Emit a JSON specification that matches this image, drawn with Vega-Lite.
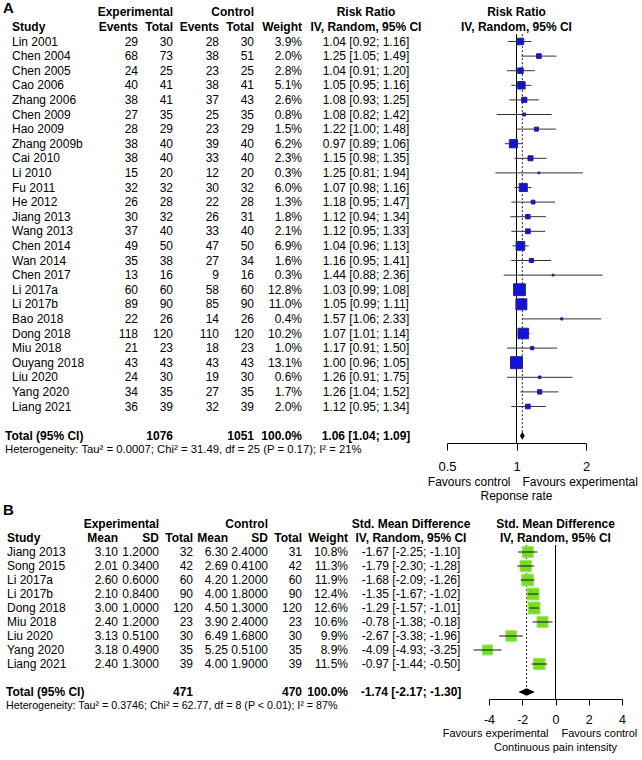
{
  "$schema": "https://vega.github.io/schema/vega-lite/v6.json",
  "background": "white",
  "padding": {"left": 0, "top": 1, "right": 0, "bottom": 0},
  "autosize": {"type": "pad"},
  "config": {
    "view": {"stroke": null},
    "font": "Liberation Sans",
    "text": {"font": "Liberation Sans", "fontSize": 12, "color": "#000", "baseline": "middle"}
  },
  "datasets": {
    "A": [
      {"r":"Lin 2001","ee":29,"et":30,"ce":28,"ct":30,"w":0.039,"est":1.04,"lo":0.92,"hi":1.16,"ci":"1.04 [0.92; 1.16]"},
      {"r":"Chen 2004","ee":68,"et":73,"ce":38,"ct":51,"w":0.020,"est":1.25,"lo":1.05,"hi":1.49,"ci":"1.25 [1.05; 1.49]"},
      {"r":"Chen 2005","ee":24,"et":25,"ce":23,"ct":25,"w":0.028,"est":1.04,"lo":0.91,"hi":1.20,"ci":"1.04 [0.91; 1.20]"},
      {"r":"Cao 2006","ee":40,"et":41,"ce":38,"ct":41,"w":0.051,"est":1.05,"lo":0.95,"hi":1.16,"ci":"1.05 [0.95; 1.16]"},
      {"r":"Zhang 2006","ee":38,"et":41,"ce":37,"ct":43,"w":0.026,"est":1.08,"lo":0.93,"hi":1.25,"ci":"1.08 [0.93; 1.25]"},
      {"r":"Chen 2009","ee":27,"et":35,"ce":25,"ct":35,"w":0.008,"est":1.08,"lo":0.82,"hi":1.42,"ci":"1.08 [0.82; 1.42]"},
      {"r":"Hao 2009","ee":28,"et":29,"ce":23,"ct":29,"w":0.015,"est":1.22,"lo":1.00,"hi":1.48,"ci":"1.22 [1.00; 1.48]"},
      {"r":"Zhang 2009b","ee":38,"et":40,"ce":39,"ct":40,"w":0.062,"est":0.97,"lo":0.89,"hi":1.06,"ci":"0.97 [0.89; 1.06]"},
      {"r":"Cai 2010","ee":38,"et":40,"ce":33,"ct":40,"w":0.023,"est":1.15,"lo":0.98,"hi":1.35,"ci":"1.15 [0.98; 1.35]"},
      {"r":"Li 2010","ee":15,"et":20,"ce":12,"ct":20,"w":0.003,"est":1.25,"lo":0.81,"hi":1.94,"ci":"1.25 [0.81; 1.94]"},
      {"r":"Fu 2011","ee":32,"et":32,"ce":30,"ct":32,"w":0.060,"est":1.07,"lo":0.98,"hi":1.16,"ci":"1.07 [0.98; 1.16]"},
      {"r":"He 2012","ee":26,"et":28,"ce":22,"ct":28,"w":0.013,"est":1.18,"lo":0.95,"hi":1.47,"ci":"1.18 [0.95; 1.47]"},
      {"r":"Jiang 2013","ee":30,"et":32,"ce":26,"ct":31,"w":0.018,"est":1.12,"lo":0.94,"hi":1.34,"ci":"1.12 [0.94; 1.34]"},
      {"r":"Wang 2013","ee":37,"et":40,"ce":33,"ct":40,"w":0.021,"est":1.12,"lo":0.95,"hi":1.33,"ci":"1.12 [0.95; 1.33]"},
      {"r":"Chen 2014","ee":49,"et":50,"ce":47,"ct":50,"w":0.069,"est":1.04,"lo":0.96,"hi":1.13,"ci":"1.04 [0.96; 1.13]"},
      {"r":"Wan 2014","ee":35,"et":38,"ce":27,"ct":34,"w":0.016,"est":1.16,"lo":0.95,"hi":1.41,"ci":"1.16 [0.95; 1.41]"},
      {"r":"Chen 2017","ee":13,"et":16,"ce":9,"ct":16,"w":0.003,"est":1.44,"lo":0.88,"hi":2.36,"ci":"1.44 [0.88; 2.36]"},
      {"r":"Li 2017a","ee":60,"et":60,"ce":58,"ct":60,"w":0.128,"est":1.03,"lo":0.99,"hi":1.08,"ci":"1.03 [0.99; 1.08]"},
      {"r":"Li 2017b","ee":89,"et":90,"ce":85,"ct":90,"w":0.110,"est":1.05,"lo":0.99,"hi":1.11,"ci":"1.05 [0.99; 1.11]"},
      {"r":"Bao 2018","ee":22,"et":26,"ce":14,"ct":26,"w":0.004,"est":1.57,"lo":1.06,"hi":2.33,"ci":"1.57 [1.06; 2.33]"},
      {"r":"Dong 2018","ee":118,"et":120,"ce":110,"ct":120,"w":0.102,"est":1.07,"lo":1.01,"hi":1.14,"ci":"1.07 [1.01; 1.14]"},
      {"r":"Miu 2018","ee":21,"et":23,"ce":18,"ct":23,"w":0.010,"est":1.17,"lo":0.91,"hi":1.50,"ci":"1.17 [0.91; 1.50]"},
      {"r":"Ouyang 2018","ee":43,"et":43,"ce":43,"ct":43,"w":0.131,"est":1.00,"lo":0.96,"hi":1.05,"ci":"1.00 [0.96; 1.05]"},
      {"r":"Liu 2020","ee":24,"et":30,"ce":19,"ct":30,"w":0.006,"est":1.26,"lo":0.91,"hi":1.75,"ci":"1.26 [0.91; 1.75]"},
      {"r":"Yang 2020","ee":34,"et":35,"ce":27,"ct":35,"w":0.017,"est":1.26,"lo":1.04,"hi":1.52,"ci":"1.26 [1.04; 1.52]"},
      {"r":"Liang 2021","ee":36,"et":39,"ce":32,"ct":39,"w":0.020,"est":1.12,"lo":0.95,"hi":1.34,"ci":"1.12 [0.95; 1.34]"}
    ],
    "Ab": [
      {"r":"h1","c":"lab","t":"A"},
      {"r":"h1","c":"et","t":"Experimental"},
      {"r":"h1","c":"ct","t":"Control"},
      {"r":"h1","c":"ci","t":"Risk Ratio"},
      {"r":"h1","c":"fp","t":"Risk Ratio"},
      {"r":"h2","c":"s","t":"Study"},
      {"r":"h2","c":"ee","t":"Events"},
      {"r":"h2","c":"et","t":"Total"},
      {"r":"h2","c":"ce","t":"Events"},
      {"r":"h2","c":"ct","t":"Total"},
      {"r":"h2","c":"w","t":"Weight"},
      {"r":"h2","c":"ci","t":"IV, Random, 95% CI"},
      {"r":"h2","c":"fp","t":"IV, Random, 95% CI"},
      {"r":"Total","c":"tot","t":"Total (95% CI)"},
      {"r":"Total","c":"et","t":"1076"},
      {"r":"Total","c":"ct","t":"1051"},
      {"r":"Total","c":"w","t":"100.0%"},
      {"r":"Total","c":"ci","t":"1.06 [1.04; 1.09]"}
    ],
    "An": [
      {"r":"Het","c":"het","t":"Heterogeneity: Tau² = 0.0007; Chi² = 31.49, df = 25 (P = 0.17); I² = 21%"},
      {"r":"fav","c":"L","t":"Favours control"},
      {"r":"fav","c":"R","t":"Favours experimental"},
      {"r":"resp","c":"C","t":"Reponse rate"}
    ],
    "At": [{"r":"Total","lo":1.04,"est":1.06,"hi":1.09}],
    "B": [
      {"r":"Jiang 2013","me":3.10,"sde":1.2,"te":32,"mc":6.30,"sdc":2.4,"tc":31,"w":0.108,"est":-1.67,"lo":-2.25,"hi":-1.10,"ci":"-1.67 [-2.25; -1.10]"},
      {"r":"Song 2015","me":2.01,"sde":0.34,"te":42,"mc":2.69,"sdc":0.41,"tc":42,"w":0.113,"est":-1.79,"lo":-2.30,"hi":-1.28,"ci":"-1.79 [-2.30; -1.28]"},
      {"r":"Li 2017a","me":2.60,"sde":0.6,"te":60,"mc":4.20,"sdc":1.2,"tc":60,"w":0.119,"est":-1.68,"lo":-2.09,"hi":-1.26,"ci":"-1.68 [-2.09; -1.26]"},
      {"r":"Li 2017b","me":2.10,"sde":0.84,"te":90,"mc":4.00,"sdc":1.8,"tc":90,"w":0.124,"est":-1.35,"lo":-1.67,"hi":-1.02,"ci":"-1.35 [-1.67; -1.02]"},
      {"r":"Dong 2018","me":3.00,"sde":1.0,"te":120,"mc":4.50,"sdc":1.3,"tc":120,"w":0.126,"est":-1.29,"lo":-1.57,"hi":-1.01,"ci":"-1.29 [-1.57; -1.01]"},
      {"r":"Miu 2018","me":2.40,"sde":1.2,"te":23,"mc":3.90,"sdc":2.4,"tc":23,"w":0.106,"est":-0.78,"lo":-1.38,"hi":-0.18,"ci":"-0.78 [-1.38; -0.18]"},
      {"r":"Liu 2020","me":3.13,"sde":0.51,"te":30,"mc":6.49,"sdc":1.68,"tc":30,"w":0.099,"est":-2.67,"lo":-3.38,"hi":-1.96,"ci":"-2.67 [-3.38; -1.96]"},
      {"r":"Yang 2020","me":3.18,"sde":0.49,"te":35,"mc":5.25,"sdc":0.51,"tc":35,"w":0.089,"est":-4.09,"lo":-4.93,"hi":-3.25,"ci":"-4.09 [-4.93; -3.25]"},
      {"r":"Liang 2021","me":2.40,"sde":1.3,"te":39,"mc":4.00,"sdc":1.9,"tc":39,"w":0.115,"est":-0.97,"lo":-1.44,"hi":-0.50,"ci":"-0.97 [-1.44; -0.50]"}
    ],
    "Bb": [
      {"r":"lab","c":"lab","t":"B"},
      {"r":"h1","c":"sde","t":"Experimental"},
      {"r":"h1","c":"sdc","t":"Control"},
      {"r":"h1","c":"ci","t":"Std. Mean Difference"},
      {"r":"h1","c":"fp","t":"Std. Mean Difference"},
      {"r":"h2","c":"s","t":"Study"},
      {"r":"h2","c":"me","t":"Mean"},
      {"r":"h2","c":"sde","t":"SD"},
      {"r":"h2","c":"te","t":"Total"},
      {"r":"h2","c":"mc","t":"Mean"},
      {"r":"h2","c":"sdc","t":"SD"},
      {"r":"h2","c":"tc","t":"Total"},
      {"r":"h2","c":"w","t":"Weight"},
      {"r":"h2","c":"ci","t":"IV, Random, 95% CI"},
      {"r":"h2","c":"fp","t":"IV, Random, 95% CI"},
      {"r":"Total","c":"tot","t":"Total (95% CI)"},
      {"r":"Total","c":"te","t":"471"},
      {"r":"Total","c":"tc","t":"470"},
      {"r":"Total","c":"w","t":"100.0%"},
      {"r":"Total","c":"ci","t":"-1.74 [-2.17; -1.30]"}
    ],
    "Bn": [
      {"r":"Het","c":"het","t":"Heterogeneity: Tau² = 0.3746; Chi² = 62.77, df = 8 (P < 0.01); I² = 87%"},
      {"r":"fav","c":"L","t":"Favours experimental"},
      {"r":"fav","c":"R","t":"Favours control"},
      {"r":"resp","c":"C","t":"Continuous pain intensity"}
    ],
    "Bt": [{"r":"Total","lo":-2.17,"est":-1.74,"hi":-1.30}]
  },
  "spacing": 0,
  "bounds": "full",
  "vconcat": [
    {
      "spacing": 0,
      "bounds": "flush",
      "hconcat": [
        {
          "width": 98, "height": 496.4,
          "encoding": {"y": {"field": "r", "type": "nominal", "axis": null, "scale": {"type": "band", "paddingInner": 0, "paddingOuter": 0, "domain": ["h1","h2","Lin 2001","Chen 2004","Chen 2005","Cao 2006","Zhang 2006","Chen 2009","Hao 2009","Zhang 2009b","Cai 2010","Li 2010","Fu 2011","He 2012","Jiang 2013","Wang 2013","Chen 2014","Wan 2014","Chen 2017","Li 2017a","Li 2017b","Bao 2018","Dong 2018","Miu 2018","Ouyang 2018","Liu 2020","Yang 2020","Liang 2021","gap","Total","Het","ticks","fav","resp"]}}},
          "layer": [
            {"data": {"name": "A"}, "mark": {"type": "text", "align": "left", "x": 0, "dx": 12}, "encoding": {"text": {"field": "r", "type": "nominal"}}},
            {"data": {"name": "Ab"}, "transform": [{"filter": "datum.c == 's'"}], "mark": {"type": "text", "align": "left", "x": 0, "dx": 12, "fontWeight": "bold"}, "encoding": {"text": {"field": "t", "type": "nominal"}}},
            {"data": {"name": "Ab"}, "transform": [{"filter": "datum.c == 'tot'"}], "mark": {"type": "text", "align": "left", "x": 0, "dx": 5, "fontWeight": "bold"}, "encoding": {"text": {"field": "t", "type": "nominal"}}},
            {"data": {"name": "Ab"}, "transform": [{"filter": "datum.c == 'lab'"}], "mark": {"type": "text", "align": "left", "x": 0, "dx": 3, "dy": -4, "fontSize": 15, "fontWeight": "bold"}, "encoding": {"text": {"field": "t", "type": "nominal"}}},
            {"data": {"name": "An"}, "transform": [{"filter": "datum.c == 'het'"}], "mark": {"type": "text", "align": "left", "x": 0, "dx": 5, "fontSize": 11.3}, "encoding": {"text": {"field": "t", "type": "nominal"}}}
          ]
        },
        {
          "width": 40, "height": 496.4,
          "encoding": {"y": {"field": "r", "type": "nominal", "axis": null, "scale": {"type": "band", "paddingInner": 0, "paddingOuter": 0, "domain": ["h1","h2","Lin 2001","Chen 2004","Chen 2005","Cao 2006","Zhang 2006","Chen 2009","Hao 2009","Zhang 2009b","Cai 2010","Li 2010","Fu 2011","He 2012","Jiang 2013","Wang 2013","Chen 2014","Wan 2014","Chen 2017","Li 2017a","Li 2017b","Bao 2018","Dong 2018","Miu 2018","Ouyang 2018","Liu 2020","Yang 2020","Liang 2021","gap","Total","Het","ticks","fav","resp"]}}},
          "layer": [
            {"data": {"name": "A"}, "mark": {"type": "text", "align": "right", "x": "width"}, "encoding": {"text": {"field": "ee", "type": "nominal"}}},
            {"data": {"name": "Ab"}, "transform": [{"filter": "datum.c == 'ee'"}], "mark": {"type": "text", "align": "right", "x": "width", "fontWeight": "bold"}, "encoding": {"text": {"field": "t", "type": "nominal"}}}
          ]
        },
        {
          "width": 35, "height": 496.4,
          "encoding": {"y": {"field": "r", "type": "nominal", "axis": null, "scale": {"type": "band", "paddingInner": 0, "paddingOuter": 0, "domain": ["h1","h2","Lin 2001","Chen 2004","Chen 2005","Cao 2006","Zhang 2006","Chen 2009","Hao 2009","Zhang 2009b","Cai 2010","Li 2010","Fu 2011","He 2012","Jiang 2013","Wang 2013","Chen 2014","Wan 2014","Chen 2017","Li 2017a","Li 2017b","Bao 2018","Dong 2018","Miu 2018","Ouyang 2018","Liu 2020","Yang 2020","Liang 2021","gap","Total","Het","ticks","fav","resp"]}}},
          "layer": [
            {"data": {"name": "A"}, "mark": {"type": "text", "align": "right", "x": "width"}, "encoding": {"text": {"field": "et", "type": "nominal"}}},
            {"data": {"name": "Ab"}, "transform": [{"filter": "datum.c == 'et'"}], "mark": {"type": "text", "align": "right", "x": "width", "fontWeight": "bold"}, "encoding": {"text": {"field": "t", "type": "nominal"}}}
          ]
        },
        {
          "width": 46, "height": 496.4,
          "encoding": {"y": {"field": "r", "type": "nominal", "axis": null, "scale": {"type": "band", "paddingInner": 0, "paddingOuter": 0, "domain": ["h1","h2","Lin 2001","Chen 2004","Chen 2005","Cao 2006","Zhang 2006","Chen 2009","Hao 2009","Zhang 2009b","Cai 2010","Li 2010","Fu 2011","He 2012","Jiang 2013","Wang 2013","Chen 2014","Wan 2014","Chen 2017","Li 2017a","Li 2017b","Bao 2018","Dong 2018","Miu 2018","Ouyang 2018","Liu 2020","Yang 2020","Liang 2021","gap","Total","Het","ticks","fav","resp"]}}},
          "layer": [
            {"data": {"name": "A"}, "mark": {"type": "text", "align": "right", "x": "width"}, "encoding": {"text": {"field": "ce", "type": "nominal"}}},
            {"data": {"name": "Ab"}, "transform": [{"filter": "datum.c == 'ce'"}], "mark": {"type": "text", "align": "right", "x": "width", "fontWeight": "bold"}, "encoding": {"text": {"field": "t", "type": "nominal"}}}
          ]
        },
        {
          "width": 35, "height": 496.4,
          "encoding": {"y": {"field": "r", "type": "nominal", "axis": null, "scale": {"type": "band", "paddingInner": 0, "paddingOuter": 0, "domain": ["h1","h2","Lin 2001","Chen 2004","Chen 2005","Cao 2006","Zhang 2006","Chen 2009","Hao 2009","Zhang 2009b","Cai 2010","Li 2010","Fu 2011","He 2012","Jiang 2013","Wang 2013","Chen 2014","Wan 2014","Chen 2017","Li 2017a","Li 2017b","Bao 2018","Dong 2018","Miu 2018","Ouyang 2018","Liu 2020","Yang 2020","Liang 2021","gap","Total","Het","ticks","fav","resp"]}}},
          "layer": [
            {"data": {"name": "A"}, "mark": {"type": "text", "align": "right", "x": "width"}, "encoding": {"text": {"field": "ct", "type": "nominal"}}},
            {"data": {"name": "Ab"}, "transform": [{"filter": "datum.c == 'ct'"}], "mark": {"type": "text", "align": "right", "x": "width", "fontWeight": "bold"}, "encoding": {"text": {"field": "t", "type": "nominal"}}}
          ]
        },
        {
          "width": 48, "height": 496.4,
          "encoding": {"y": {"field": "r", "type": "nominal", "axis": null, "scale": {"type": "band", "paddingInner": 0, "paddingOuter": 0, "domain": ["h1","h2","Lin 2001","Chen 2004","Chen 2005","Cao 2006","Zhang 2006","Chen 2009","Hao 2009","Zhang 2009b","Cai 2010","Li 2010","Fu 2011","He 2012","Jiang 2013","Wang 2013","Chen 2014","Wan 2014","Chen 2017","Li 2017a","Li 2017b","Bao 2018","Dong 2018","Miu 2018","Ouyang 2018","Liu 2020","Yang 2020","Liang 2021","gap","Total","Het","ticks","fav","resp"]}}},
          "layer": [
            {"data": {"name": "A"}, "mark": {"type": "text", "align": "right", "x": "width"}, "encoding": {"text": {"field": "w", "type": "quantitative", "format": ".1%"}}},
            {"data": {"name": "Ab"}, "transform": [{"filter": "datum.c == 'w'"}], "mark": {"type": "text", "align": "right", "x": "width", "fontWeight": "bold"}, "encoding": {"text": {"field": "t", "type": "nominal"}}}
          ]
        },
        {
          "width": 145, "height": 496.4,
          "encoding": {"y": {"field": "r", "type": "nominal", "axis": null, "scale": {"type": "band", "paddingInner": 0, "paddingOuter": 0, "domain": ["h1","h2","Lin 2001","Chen 2004","Chen 2005","Cao 2006","Zhang 2006","Chen 2009","Hao 2009","Zhang 2009b","Cai 2010","Li 2010","Fu 2011","He 2012","Jiang 2013","Wang 2013","Chen 2014","Wan 2014","Chen 2017","Li 2017a","Li 2017b","Bao 2018","Dong 2018","Miu 2018","Ouyang 2018","Liu 2020","Yang 2020","Liang 2021","gap","Total","Het","ticks","fav","resp"]}}},
          "layer": [
            {"data": {"name": "A"}, "mark": {"type": "text", "align": "center", "x": "width", "dx": -81}, "encoding": {"text": {"field": "ci", "type": "nominal"}}},
            {"data": {"name": "Ab"}, "transform": [{"filter": "datum.c == 'ci'"}], "mark": {"type": "text", "align": "center", "x": "width", "dx": -81, "fontWeight": "bold"}, "encoding": {"text": {"field": "t", "type": "nominal"}}}
          ]
        },
        {
          "width": 139, "height": 496.4,
          "encoding": {"y": {"field": "r", "type": "nominal", "axis": null, "scale": {"type": "band", "paddingInner": 0, "paddingOuter": 0, "domain": ["h1","h2","Lin 2001","Chen 2004","Chen 2005","Cao 2006","Zhang 2006","Chen 2009","Hao 2009","Zhang 2009b","Cai 2010","Li 2010","Fu 2011","He 2012","Jiang 2013","Wang 2013","Chen 2014","Wan 2014","Chen 2017","Li 2017a","Li 2017b","Bao 2018","Dong 2018","Miu 2018","Ouyang 2018","Liu 2020","Yang 2020","Liang 2021","gap","Total","Het","ticks","fav","resp"]}}},
          "layer": [
            {"data": {"name": "At"}, "mark": {"type": "rule", "color": "#000", "strokeWidth": 1},
             "encoding": {
               "x": {"datum": 1, "type": "quantitative", "scale": {"type": "log", "domain": [0.5, 2], "nice": false, "zero": false},
                     "axis": {"orient": "bottom", "offset": -58.4, "values": [0.5, 1, 2], "title": null, "grid": false, "domainColor": "#000", "tickColor": "#000", "labelColor": "#000", "tickSize": 7, "labelFontSize": 13, "labelFont": "Liberation Sans", "labelPadding": 10, "labelExpr": "'' + datum.value", "labelFlush": false, "labelOverlap": false}},
               "y": {"datum": "Lin 2001", "bandPosition": 0, "axis": null},
               "y2": {"datum": "Total", "bandPosition": 1}}},
            {"data": {"name": "At"}, "mark": {"type": "rule", "color": "#222", "strokeWidth": 1, "strokeDash": [2, 2]},
             "encoding": {
               "x": {"field": "est", "type": "quantitative", "scale": {"type": "log", "domain": [0.5, 2], "nice": false, "zero": false},
                     "axis": {"orient": "bottom", "offset": -58.4, "values": [0.5, 1, 2], "title": null, "grid": false, "domainColor": "#000", "tickColor": "#000", "labelColor": "#000", "tickSize": 7, "labelFontSize": 13, "labelFont": "Liberation Sans", "labelPadding": 10, "labelExpr": "'' + datum.value", "labelFlush": false, "labelOverlap": false}},
               "y": {"datum": "Lin 2001", "bandPosition": 0, "axis": null},
               "y2": {"datum": "Total"}}},
            {"data": {"name": "A"}, "mark": {"type": "rule", "color": "#333", "strokeWidth": 1},
             "encoding": {
               "x": {"field": "lo", "type": "quantitative", "scale": {"type": "log", "domain": [0.5, 2], "nice": false, "zero": false},
                     "axis": {"orient": "bottom", "offset": -58.4, "values": [0.5, 1, 2], "title": null, "grid": false, "domainColor": "#000", "tickColor": "#000", "labelColor": "#000", "tickSize": 7, "labelFontSize": 13, "labelFont": "Liberation Sans", "labelPadding": 10, "labelExpr": "'' + datum.value", "labelFlush": false, "labelOverlap": false}},
               "x2": {"field": "hi"}}},
            {"data": {"name": "A"}, "mark": {"type": "point", "shape": "square", "filled": true, "color": "#1313d8", "stroke": "#262680", "strokeWidth": 1, "opacity": 1},
             "encoding": {
               "x": {"field": "est", "type": "quantitative", "scale": {"type": "log", "domain": [0.5, 2], "nice": false, "zero": false},
                     "axis": {"orient": "bottom", "offset": -58.4, "values": [0.5, 1, 2], "title": null, "grid": false, "domainColor": "#000", "tickColor": "#000", "labelColor": "#000", "tickSize": 7, "labelFontSize": 13, "labelFont": "Liberation Sans", "labelPadding": 10, "labelExpr": "'' + datum.value", "labelFlush": false, "labelOverlap": false}},
               "size": {"field": "w", "type": "quantitative", "scale": {"domain": [0, 0.131], "range": [0, 144]}, "legend": null}}},
            {"data": {"name": "At"}, "mark": {"type": "point", "shape": "M0,-1L0.6,0L0,1L-0.6,0Z", "size": 64, "filled": true, "color": "#000", "opacity": 1},
             "encoding": {
               "x": {"field": "est", "type": "quantitative", "scale": {"type": "log", "domain": [0.5, 2], "nice": false, "zero": false},
                     "axis": {"orient": "bottom", "offset": -58.4, "values": [0.5, 1, 2], "title": null, "grid": false, "domainColor": "#000", "tickColor": "#000", "labelColor": "#000", "tickSize": 7, "labelFontSize": 13, "labelFont": "Liberation Sans", "labelPadding": 10, "labelExpr": "'' + datum.value", "labelFlush": false, "labelOverlap": false}}}},
            {"data": {"name": "Ab"}, "transform": [{"filter": "datum.c == 'fp'"}], "mark": {"type": "text", "align": "center", "fontWeight": "bold"},
             "encoding": {"x": {"datum": 1, "type": "quantitative", "axis": {"orient": "bottom", "offset": -58.4, "values": [0.5, 1, 2], "title": null, "grid": false, "domainColor": "#000", "tickColor": "#000", "labelColor": "#000", "tickSize": 7, "labelFontSize": 13, "labelFont": "Liberation Sans", "labelPadding": 10, "labelExpr": "'' + datum.value", "labelFlush": false, "labelOverlap": false}}, "text": {"field": "t", "type": "nominal"}}},
            {"data": {"name": "An"}, "transform": [{"filter": "datum.c == 'L'"}], "mark": {"type": "text", "align": "right", "dx": -6, "dy": 2},
             "encoding": {"x": {"datum": 1, "type": "quantitative", "axis": {"orient": "bottom", "offset": -58.4, "values": [0.5, 1, 2], "title": null, "grid": false, "domainColor": "#000", "tickColor": "#000", "labelColor": "#000", "tickSize": 7, "labelFontSize": 13, "labelFont": "Liberation Sans", "labelPadding": 10, "labelExpr": "'' + datum.value", "labelFlush": false, "labelOverlap": false}}, "text": {"field": "t", "type": "nominal"}}},
            {"data": {"name": "An"}, "transform": [{"filter": "datum.c == 'R'"}], "mark": {"type": "text", "align": "left", "dx": 6, "dy": 2},
             "encoding": {"x": {"datum": 1, "type": "quantitative", "axis": {"orient": "bottom", "offset": -58.4, "values": [0.5, 1, 2], "title": null, "grid": false, "domainColor": "#000", "tickColor": "#000", "labelColor": "#000", "tickSize": 7, "labelFontSize": 13, "labelFont": "Liberation Sans", "labelPadding": 10, "labelExpr": "'' + datum.value", "labelFlush": false, "labelOverlap": false}}, "text": {"field": "t", "type": "nominal"}}},
            {"data": {"name": "An"}, "transform": [{"filter": "datum.c == 'C'"}], "mark": {"type": "text", "align": "center", "dy": 2},
             "encoding": {"x": {"datum": 1, "type": "quantitative", "axis": {"orient": "bottom", "offset": -58.4, "values": [0.5, 1, 2], "title": null, "grid": false, "domainColor": "#000", "tickColor": "#000", "labelColor": "#000", "tickSize": 7, "labelFontSize": 13, "labelFont": "Liberation Sans", "labelPadding": 10, "labelExpr": "'' + datum.value", "labelFlush": false, "labelOverlap": false}}, "text": {"field": "t", "type": "nominal"}}}
          ]
        }
      ]
    },
    {
      "spacing": 0,
      "bounds": "flush",
      "hconcat": [
        {
          "width": 88, "height": 252,
          "encoding": {"y": {"field": "r", "type": "nominal", "axis": null, "scale": {"type": "band", "paddingInner": 0, "paddingOuter": 0, "domain": ["lab","h1","h2","Jiang 2013","Song 2015","Li 2017a","Li 2017b","Dong 2018","Miu 2018","Liu 2020","Yang 2020","Liang 2021","gap","Total","Het","ticks","fav","resp"]}}},
          "layer": [
            {"data": {"name": "B"}, "mark": {"type": "text", "align": "left", "x": 0, "dx": 7}, "encoding": {"text": {"field": "r", "type": "nominal"}}},
            {"data": {"name": "Bb"}, "transform": [{"filter": "datum.c == 's'"}], "mark": {"type": "text", "align": "left", "x": 0, "dx": 7, "fontWeight": "bold"}, "encoding": {"text": {"field": "t", "type": "nominal"}}},
            {"data": {"name": "Bb"}, "transform": [{"filter": "datum.c == 'tot'"}], "mark": {"type": "text", "align": "left", "x": 0, "dx": 6, "fontWeight": "bold"}, "encoding": {"text": {"field": "t", "type": "nominal"}}},
            {"data": {"name": "Bb"}, "transform": [{"filter": "datum.c == 'lab'"}], "mark": {"type": "text", "align": "left", "x": 0, "dx": 3, "fontSize": 15, "fontWeight": "bold"}, "encoding": {"text": {"field": "t", "type": "nominal"}}},
            {"data": {"name": "Bn"}, "transform": [{"filter": "datum.c == 'het'"}], "mark": {"type": "text", "align": "left", "x": 0, "dx": 6, "fontSize": 10.7}, "encoding": {"text": {"field": "t", "type": "nominal"}}}
          ]
        },
        {
          "width": 30, "height": 252,
          "encoding": {"y": {"field": "r", "type": "nominal", "axis": null, "scale": {"type": "band", "paddingInner": 0, "paddingOuter": 0, "domain": ["lab","h1","h2","Jiang 2013","Song 2015","Li 2017a","Li 2017b","Dong 2018","Miu 2018","Liu 2020","Yang 2020","Liang 2021","gap","Total","Het","ticks","fav","resp"]}}},
          "layer": [
            {"data": {"name": "B"}, "mark": {"type": "text", "align": "right", "x": "width"}, "encoding": {"text": {"field": "me", "type": "quantitative", "format": ".2f"}}},
            {"data": {"name": "Bb"}, "transform": [{"filter": "datum.c == 'me'"}], "mark": {"type": "text", "align": "right", "x": "width", "fontWeight": "bold"}, "encoding": {"text": {"field": "t", "type": "nominal"}}}
          ]
        },
        {
          "width": 41, "height": 252,
          "encoding": {"y": {"field": "r", "type": "nominal", "axis": null, "scale": {"type": "band", "paddingInner": 0, "paddingOuter": 0, "domain": ["lab","h1","h2","Jiang 2013","Song 2015","Li 2017a","Li 2017b","Dong 2018","Miu 2018","Liu 2020","Yang 2020","Liang 2021","gap","Total","Het","ticks","fav","resp"]}}},
          "layer": [
            {"data": {"name": "B"}, "mark": {"type": "text", "align": "right", "x": "width"}, "encoding": {"text": {"field": "sde", "type": "quantitative", "format": ".4f"}}},
            {"data": {"name": "Bb"}, "transform": [{"filter": "datum.c == 'sde'"}], "mark": {"type": "text", "align": "right", "x": "width", "fontWeight": "bold"}, "encoding": {"text": {"field": "t", "type": "nominal"}}}
          ]
        },
        {
          "width": 34, "height": 252,
          "encoding": {"y": {"field": "r", "type": "nominal", "axis": null, "scale": {"type": "band", "paddingInner": 0, "paddingOuter": 0, "domain": ["lab","h1","h2","Jiang 2013","Song 2015","Li 2017a","Li 2017b","Dong 2018","Miu 2018","Liu 2020","Yang 2020","Liang 2021","gap","Total","Het","ticks","fav","resp"]}}},
          "layer": [
            {"data": {"name": "B"}, "mark": {"type": "text", "align": "right", "x": "width"}, "encoding": {"text": {"field": "te", "type": "nominal"}}},
            {"data": {"name": "Bb"}, "transform": [{"filter": "datum.c == 'te'"}], "mark": {"type": "text", "align": "right", "x": "width", "fontWeight": "bold"}, "encoding": {"text": {"field": "t", "type": "nominal"}}}
          ]
        },
        {
          "width": 35, "height": 252,
          "encoding": {"y": {"field": "r", "type": "nominal", "axis": null, "scale": {"type": "band", "paddingInner": 0, "paddingOuter": 0, "domain": ["lab","h1","h2","Jiang 2013","Song 2015","Li 2017a","Li 2017b","Dong 2018","Miu 2018","Liu 2020","Yang 2020","Liang 2021","gap","Total","Het","ticks","fav","resp"]}}},
          "layer": [
            {"data": {"name": "B"}, "mark": {"type": "text", "align": "right", "x": "width"}, "encoding": {"text": {"field": "mc", "type": "quantitative", "format": ".2f"}}},
            {"data": {"name": "Bb"}, "transform": [{"filter": "datum.c == 'mc'"}], "mark": {"type": "text", "align": "right", "x": "width", "fontWeight": "bold"}, "encoding": {"text": {"field": "t", "type": "nominal"}}}
          ]
        },
        {
          "width": 40, "height": 252,
          "encoding": {"y": {"field": "r", "type": "nominal", "axis": null, "scale": {"type": "band", "paddingInner": 0, "paddingOuter": 0, "domain": ["lab","h1","h2","Jiang 2013","Song 2015","Li 2017a","Li 2017b","Dong 2018","Miu 2018","Liu 2020","Yang 2020","Liang 2021","gap","Total","Het","ticks","fav","resp"]}}},
          "layer": [
            {"data": {"name": "B"}, "mark": {"type": "text", "align": "right", "x": "width"}, "encoding": {"text": {"field": "sdc", "type": "quantitative", "format": ".4f"}}},
            {"data": {"name": "Bb"}, "transform": [{"filter": "datum.c == 'sdc'"}], "mark": {"type": "text", "align": "right", "x": "width", "fontWeight": "bold"}, "encoding": {"text": {"field": "t", "type": "nominal"}}}
          ]
        },
        {
          "width": 34, "height": 252,
          "encoding": {"y": {"field": "r", "type": "nominal", "axis": null, "scale": {"type": "band", "paddingInner": 0, "paddingOuter": 0, "domain": ["lab","h1","h2","Jiang 2013","Song 2015","Li 2017a","Li 2017b","Dong 2018","Miu 2018","Liu 2020","Yang 2020","Liang 2021","gap","Total","Het","ticks","fav","resp"]}}},
          "layer": [
            {"data": {"name": "B"}, "mark": {"type": "text", "align": "right", "x": "width"}, "encoding": {"text": {"field": "tc", "type": "nominal"}}},
            {"data": {"name": "Bb"}, "transform": [{"filter": "datum.c == 'tc'"}], "mark": {"type": "text", "align": "right", "x": "width", "fontWeight": "bold"}, "encoding": {"text": {"field": "t", "type": "nominal"}}}
          ]
        },
        {
          "width": 46, "height": 252,
          "encoding": {"y": {"field": "r", "type": "nominal", "axis": null, "scale": {"type": "band", "paddingInner": 0, "paddingOuter": 0, "domain": ["lab","h1","h2","Jiang 2013","Song 2015","Li 2017a","Li 2017b","Dong 2018","Miu 2018","Liu 2020","Yang 2020","Liang 2021","gap","Total","Het","ticks","fav","resp"]}}},
          "layer": [
            {"data": {"name": "B"}, "mark": {"type": "text", "align": "right", "x": "width"}, "encoding": {"text": {"field": "w", "type": "quantitative", "format": ".1%"}}},
            {"data": {"name": "Bb"}, "transform": [{"filter": "datum.c == 'w'"}], "mark": {"type": "text", "align": "right", "x": "width", "fontWeight": "bold"}, "encoding": {"text": {"field": "t", "type": "nominal"}}}
          ]
        },
        {
          "width": 141, "height": 252,
          "encoding": {"y": {"field": "r", "type": "nominal", "axis": null, "scale": {"type": "band", "paddingInner": 0, "paddingOuter": 0, "domain": ["lab","h1","h2","Jiang 2013","Song 2015","Li 2017a","Li 2017b","Dong 2018","Miu 2018","Liu 2020","Yang 2020","Liang 2021","gap","Total","Het","ticks","fav","resp"]}}},
          "layer": [
            {"data": {"name": "B"}, "mark": {"type": "text", "align": "center", "x": "width", "dx": -78}, "encoding": {"text": {"field": "ci", "type": "nominal"}}},
            {"data": {"name": "Bb"}, "transform": [{"filter": "datum.c == 'ci'"}], "mark": {"type": "text", "align": "center", "x": "width", "dx": -78, "fontWeight": "bold"}, "encoding": {"text": {"field": "t", "type": "nominal"}}}
          ]
        },
        {
          "width": 133, "height": 252,
          "resolve": {"scale": {"size": "independent"}},
          "encoding": {"y": {"field": "r", "type": "nominal", "axis": null, "scale": {"type": "band", "paddingInner": 0, "paddingOuter": 0, "domain": ["lab","h1","h2","Jiang 2013","Song 2015","Li 2017a","Li 2017b","Dong 2018","Miu 2018","Liu 2020","Yang 2020","Liang 2021","gap","Total","Het","ticks","fav","resp"]}}},
          "layer": [
            {"data": {"name": "Bt"}, "mark": {"type": "rule", "color": "#000", "strokeWidth": 1},
             "encoding": {
               "x": {"datum": 0, "type": "quantitative", "scale": {"domain": [-4, 4], "nice": false, "zero": false},
                     "axis": {"orient": "bottom", "offset": -56, "values": [-4, -2, 0, 2, 4], "title": null, "grid": false, "domainColor": "#000", "tickColor": "#000", "labelColor": "#000", "tickSize": 6, "labelFontSize": 12.5, "labelFont": "Liberation Sans", "labelPadding": 8, "labelExpr": "'' + datum.value", "labelFlush": false, "labelOverlap": false}},
               "y": {"datum": "Jiang 2013", "bandPosition": 0, "axis": null},
               "y2": {"datum": "Total", "bandPosition": 1}}},
            {"data": {"name": "Bt"}, "mark": {"type": "rule", "color": "#222", "strokeWidth": 1, "strokeDash": [2, 2]},
             "encoding": {
               "x": {"field": "est", "type": "quantitative", "scale": {"domain": [-4, 4], "nice": false, "zero": false},
                     "axis": {"orient": "bottom", "offset": -56, "values": [-4, -2, 0, 2, 4], "title": null, "grid": false, "domainColor": "#000", "tickColor": "#000", "labelColor": "#000", "tickSize": 6, "labelFontSize": 12.5, "labelFont": "Liberation Sans", "labelPadding": 8, "labelExpr": "'' + datum.value", "labelFlush": false, "labelOverlap": false}},
               "y": {"datum": "Jiang 2013", "bandPosition": 0, "axis": null},
               "y2": {"datum": "Total"}}},
            {"data": {"name": "B"}, "mark": {"type": "point", "shape": "square", "filled": true, "color": "#77dd22", "stroke": "#9fe463", "strokeWidth": 1, "opacity": 1},
             "encoding": {
               "x": {"field": "est", "type": "quantitative", "scale": {"domain": [-4, 4], "nice": false, "zero": false},
                     "axis": {"orient": "bottom", "offset": -56, "values": [-4, -2, 0, 2, 4], "title": null, "grid": false, "domainColor": "#000", "tickColor": "#000", "labelColor": "#000", "tickSize": 6, "labelFontSize": 12.5, "labelFont": "Liberation Sans", "labelPadding": 8, "labelExpr": "'' + datum.value", "labelFlush": false, "labelOverlap": false}},
               "size": {"field": "w", "type": "quantitative", "scale": {"domain": [0, 0.126], "range": [0, 144]}, "legend": null}}},
            {"data": {"name": "B"}, "mark": {"type": "rule", "color": "#111", "strokeWidth": 1},
             "encoding": {
               "x": {"field": "lo", "type": "quantitative", "scale": {"domain": [-4, 4], "nice": false, "zero": false},
                     "axis": {"orient": "bottom", "offset": -56, "values": [-4, -2, 0, 2, 4], "title": null, "grid": false, "domainColor": "#000", "tickColor": "#000", "labelColor": "#000", "tickSize": 6, "labelFontSize": 12.5, "labelFont": "Liberation Sans", "labelPadding": 8, "labelExpr": "'' + datum.value", "labelFlush": false, "labelOverlap": false}},
               "x2": {"field": "hi"}}},
            {"data": {"name": "Bt"}, "transform": [{"fold": ["lo", "est", "hi"]}], "mark": {"type": "trail", "color": "#000"},
             "encoding": {
               "x": {"field": "value", "type": "quantitative", "scale": {"domain": [-4, 4], "nice": false, "zero": false},
                     "axis": {"orient": "bottom", "offset": -56, "values": [-4, -2, 0, 2, 4], "title": null, "grid": false, "domainColor": "#000", "tickColor": "#000", "labelColor": "#000", "tickSize": 6, "labelFontSize": 12.5, "labelFont": "Liberation Sans", "labelPadding": 8, "labelExpr": "'' + datum.value", "labelFlush": false, "labelOverlap": false}},
               "size": {"field": "key", "type": "ordinal", "scale": {"type": "ordinal", "domain": ["lo", "est", "hi"], "range": [0, 7, 0]}, "legend": null}}},
            {"data": {"name": "Bb"}, "transform": [{"filter": "datum.c == 'fp'"}], "mark": {"type": "text", "align": "center", "fontWeight": "bold"},
             "encoding": {"x": {"datum": 0, "type": "quantitative", "axis": {"orient": "bottom", "offset": -56, "values": [-4, -2, 0, 2, 4], "title": null, "grid": false, "domainColor": "#000", "tickColor": "#000", "labelColor": "#000", "tickSize": 6, "labelFontSize": 12.5, "labelFont": "Liberation Sans", "labelPadding": 8, "labelExpr": "'' + datum.value", "labelFlush": false, "labelOverlap": false}}, "text": {"field": "t", "type": "nominal"}}},
            {"data": {"name": "Bn"}, "transform": [{"filter": "datum.c == 'L'"}], "mark": {"type": "text", "align": "right", "dx": -7, "fontSize": 11},
             "encoding": {"x": {"datum": 0, "type": "quantitative", "axis": {"orient": "bottom", "offset": -56, "values": [-4, -2, 0, 2, 4], "title": null, "grid": false, "domainColor": "#000", "tickColor": "#000", "labelColor": "#000", "tickSize": 6, "labelFontSize": 12.5, "labelFont": "Liberation Sans", "labelPadding": 8, "labelExpr": "'' + datum.value", "labelFlush": false, "labelOverlap": false}}, "text": {"field": "t", "type": "nominal"}}},
            {"data": {"name": "Bn"}, "transform": [{"filter": "datum.c == 'R'"}], "mark": {"type": "text", "align": "left", "dx": 6, "fontSize": 11},
             "encoding": {"x": {"datum": 0, "type": "quantitative", "axis": {"orient": "bottom", "offset": -56, "values": [-4, -2, 0, 2, 4], "title": null, "grid": false, "domainColor": "#000", "tickColor": "#000", "labelColor": "#000", "tickSize": 6, "labelFontSize": 12.5, "labelFont": "Liberation Sans", "labelPadding": 8, "labelExpr": "'' + datum.value", "labelFlush": false, "labelOverlap": false}}, "text": {"field": "t", "type": "nominal"}}},
            {"data": {"name": "Bn"}, "transform": [{"filter": "datum.c == 'C'"}], "mark": {"type": "text", "align": "center", "fontSize": 11},
             "encoding": {"x": {"datum": 0, "type": "quantitative", "axis": {"orient": "bottom", "offset": -56, "values": [-4, -2, 0, 2, 4], "title": null, "grid": false, "domainColor": "#000", "tickColor": "#000", "labelColor": "#000", "tickSize": 6, "labelFontSize": 12.5, "labelFont": "Liberation Sans", "labelPadding": 8, "labelExpr": "'' + datum.value", "labelFlush": false, "labelOverlap": false}}, "text": {"field": "t", "type": "nominal"}}}
          ]
        }
      ]
    }
  ]
}
